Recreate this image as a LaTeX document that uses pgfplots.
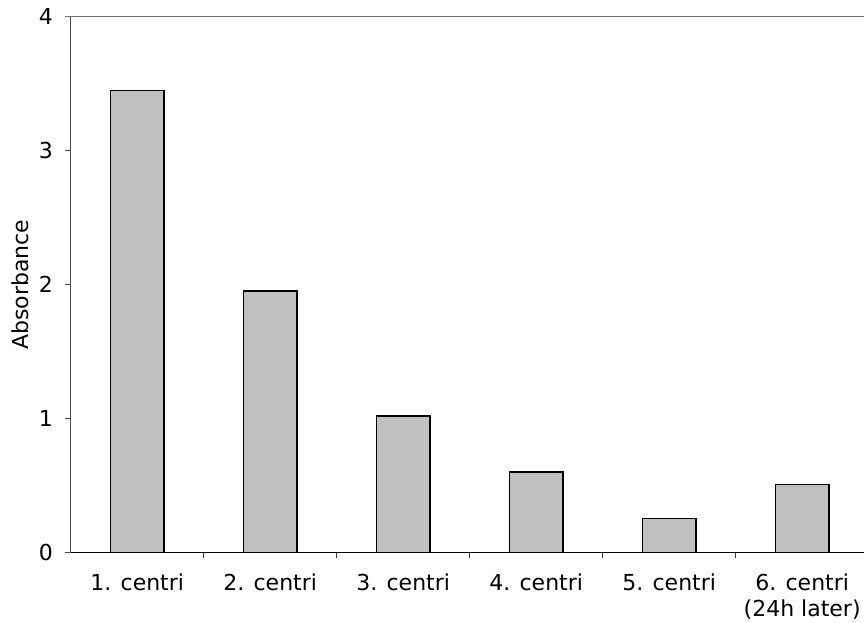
\documentclass[border=0pt]{standalone}
\usepackage{pgfplots}
\pgfplotsset{compat=1.18}
\usepackage{fontspec}
\setmainfont{DejaVu Sans}
\definecolor{barfill}{HTML}{C0C0C0}
\begin{document}
\fontsize{22pt}{26pt}\selectfont
\begin{tikzpicture}
\begin{axis}[
  scale only axis,
  width=793.3pt, height=535.6pt,
  xmin=-0.5, xmax=5.465,
  ymin=0, ymax=4,
  axis x line*=bottom,
  axis y line*=left,
  x axis line style={draw=black, line width=1pt},
  y axis line style={draw=black!70, line width=1pt},
  tick align=outside,
  ytick={0,1,2,3,4},
  xtick={0,1,2,3,4,5},
  xticklabels={1. centri, 2. centri, 3. centri, 4. centri, 5. centri, {6. centri\\(24h later)}},
  minor xtick={0.5,1.5,2.5,3.5,4.5},
  major x tick style={draw=none},
  minor x tick style={draw=black!80, line width=0.8pt},
  minor tick length=6pt,
  major tick length=5.7pt,
  y tick style={draw=black!70, line width=0.8pt},
  /pgf/number format/assume math mode=true,
  ticklabel style={font=\fontsize{22pt}{26pt}\selectfont},
  xticklabel style={align=center, inner sep=0pt, yshift=-16pt},
  yticklabel style={inner sep=0pt, xshift=-12pt},
  ylabel={Absorbance},
  ylabel style={at={(axis description cs:-0.0639,0.5)}, anchor=center, rotate=0, font=\fontsize{22pt}{26pt}\selectfont},
  clip=false,
]
\addplot[ybar, bar width=0.402, fill=barfill, draw=black, line width=1.3pt]
  coordinates {(0,3.45) (1,1.952) (2,1.018) (3,0.60) (4,0.254) (5,0.508)};
\draw[draw=black!55, line width=1pt] ([xshift=-5.7pt]rel axis cs:0,1) -- (rel axis cs:1,1);
\coordinate (bl) at (rel axis cs:0,0);
\coordinate (tr) at (rel axis cs:1,1);
\end{axis}
\pgfresetboundingbox
\path[use as bounding box] ([xshift=-70.7pt,yshift=-70.7pt]bl) rectangle ([yshift=16.7pt]tr);
\end{tikzpicture}
\end{document}
